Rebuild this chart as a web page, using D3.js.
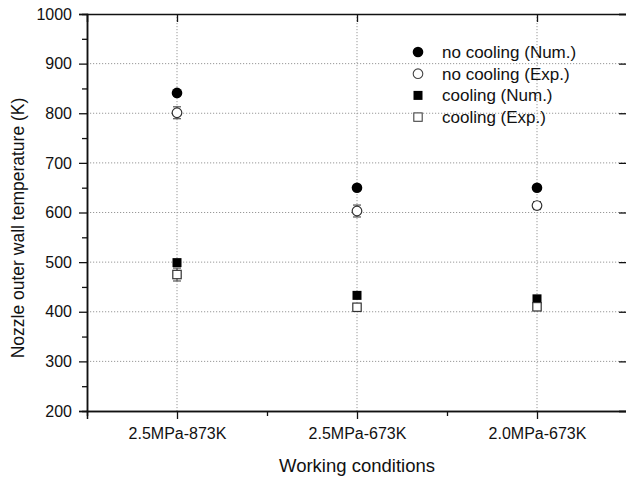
<!DOCTYPE html>
<html>
<head>
<meta charset="utf-8">
<script src="https://cdn.jsdelivr.net/npm/d3@7"></script>
<style>
  body { margin: 0; background: #fff; }
  text { font-family: "Liberation Sans", Arial, sans-serif; fill: #111; }
</style>
</head>
<body>
<div id="chart"></div>
<script>
// data
const conditions = ['2.5MPa-873K', '2.5MPa-673K', '2.0MPa-673K'];
const noCoolNum = [841, 650, 650];
const noCoolExp = [801, 603, 614];
const noCoolErr = [12, 12, 8];
const coolNum = [499, 433, 426];
const coolExp = [475, 409, 410];
const coolErr = [13, 5, 5];
const yTicks = [200, 300, 400, 500, 600, 700, 800, 900, 1000];
const legendLabels = ['no cooling (Num.)', 'no cooling (Exp.)', 'cooling (Num.)', 'cooling (Exp.)'];

const W = 626, H = 481;
const margin = {left: 87, top: 14};
const width = 540, height = 397;

const svg = d3.select('#chart').append('svg')
  .attr('width', W).attr('height', H);

const g = svg.append('g').attr('transform', `translate(${margin.left},${margin.top})`);

const x = d3.scaleLinear().domain([0.5, 3.5]).range([0, width]);
const y = d3.scaleLinear().domain([200, 1000]).range([height, 0]);

// grid
g.selectAll('.hgrid').data(yTicks.filter(d => d > 200 && d < 1000)).enter()
  .append('line')
  .attr('x1', 0).attr('x2', width)
  .attr('y1', d => y(d)).attr('y2', d => y(d))
  .attr('stroke', '#999').attr('stroke-width', 1).attr('stroke-dasharray', '1.2,1.8');
g.selectAll('.vgrid').data(conditions).enter()
  .append('line')
  .attr('x1', (d, i) => x(i + 1)).attr('x2', (d, i) => x(i + 1))
  .attr('y1', 0).attr('y2', height)
  .attr('stroke', '#999').attr('stroke-width', 1).attr('stroke-dasharray', '1.2,1.8');

// axes
const minorY = d3.range(250, 1000, 100);
g.append('g').attr('transform', `translate(0,${height})`)
  .call(d3.axisBottom(x).tickValues([1, 2, 3]).tickFormat(d => conditions[d - 1]).tickSize(8).tickPadding(9))
  .call(a => a.selectAll('text').attr('font-size', 16));
g.append('g').attr('transform', `translate(0,${height})`)
  .call(d3.axisBottom(x).tickValues([1.5, 2.5]).tickFormat('').tickSize(5));
g.append('g')
  .call(d3.axisLeft(y).tickValues(yTicks).tickFormat(d3.format('d')).tickSize(8).tickPadding(7))
  .call(a => a.selectAll('text').attr('font-size', 16));
g.append('g')
  .call(d3.axisLeft(y).tickValues(minorY).tickFormat('').tickSize(5));
g.append('g')
  .call(d3.axisTop(x).tickValues([1, 2, 3]).tickFormat('').tickSize(-8));
g.append('g').attr('transform', `translate(${width},0)`)
  .call(d3.axisRight(y).tickValues(yTicks).tickFormat('').tickSize(-8));
g.selectAll('.domain').attr('stroke', '#111').attr('stroke-width', 1.5);
g.selectAll('.tick line').attr('stroke', '#111').attr('stroke-width', 1.3);

// error bars
function errorBars(vals, errs) {
  const eg = g.append('g').attr('stroke', '#555').attr('stroke-width', 1.2);
  vals.forEach((v, i) => {
    const cx = x(i + 1), e = errs[i];
    eg.append('line').attr('x1', cx).attr('x2', cx).attr('y1', y(v + e)).attr('y2', y(v - e));
    [v + e, v - e].forEach(t => eg.append('line')
      .attr('x1', cx - 4).attr('x2', cx + 4).attr('y1', y(t)).attr('y2', y(t)));
  });
}
errorBars(noCoolExp, noCoolErr);
errorBars(coolExp, coolErr);

// markers
g.selectAll('.ncn').data(noCoolNum).enter().append('circle')
  .attr('cx', (d, i) => x(i + 1)).attr('cy', d => y(d)).attr('r', 5.3).attr('fill', '#000');
g.selectAll('.nce').data(noCoolExp).enter().append('circle')
  .attr('cx', (d, i) => x(i + 1)).attr('cy', d => y(d)).attr('r', 4.8)
  .attr('fill', '#fff').attr('stroke', '#333').attr('stroke-width', 1.2);
g.selectAll('.cn').data(coolNum).enter().append('rect')
  .attr('x', (d, i) => x(i + 1) - 4.5).attr('y', d => y(d) - 4.5)
  .attr('width', 9).attr('height', 9).attr('fill', '#000');
g.selectAll('.ce').data(coolExp).enter().append('rect')
  .attr('x', (d, i) => x(i + 1) - 4.2).attr('y', d => y(d) - 4.2)
  .attr('width', 8.4).attr('height', 8.4)
  .attr('fill', '#fff').attr('stroke', '#333').attr('stroke-width', 1.2);

// legend
const lg = svg.append('g').attr('transform', 'translate(418,52)');
legendLabels.forEach((lab, i) => {
  const row = lg.append('g').attr('transform', `translate(0,${i * 21.7})`);
  if (i === 0) row.append('circle').attr('r', 5.3).attr('fill', '#000');
  if (i === 1) row.append('circle').attr('r', 4.8).attr('fill', '#fff').attr('stroke', '#444').attr('stroke-width', 1.1);
  if (i === 2) row.append('rect').attr('x', -4.5).attr('y', -4.5).attr('width', 9).attr('height', 9).attr('fill', '#000');
  if (i === 3) row.append('rect').attr('x', -4.2).attr('y', -4.2).attr('width', 8.4).attr('height', 8.4)
    .attr('fill', '#fff').attr('stroke', '#444').attr('stroke-width', 1.1);
  row.append('text').attr('x', 24).attr('y', 0).attr('dy', '0.35em')
    .attr('font-size', 17).text(lab);
});

// axis titles
svg.append('text')
  .attr('x', 357).attr('y', 472)
  .attr('text-anchor', 'middle').attr('font-size', 18.5)
  .text('Working conditions');
svg.append('text')
  .attr('transform', 'translate(24,228) rotate(-90)')
  .attr('text-anchor', 'middle').attr('font-size', 17.5)
  .text('Nozzle outer wall temperature (K)');
</script>
</body>
</html>
